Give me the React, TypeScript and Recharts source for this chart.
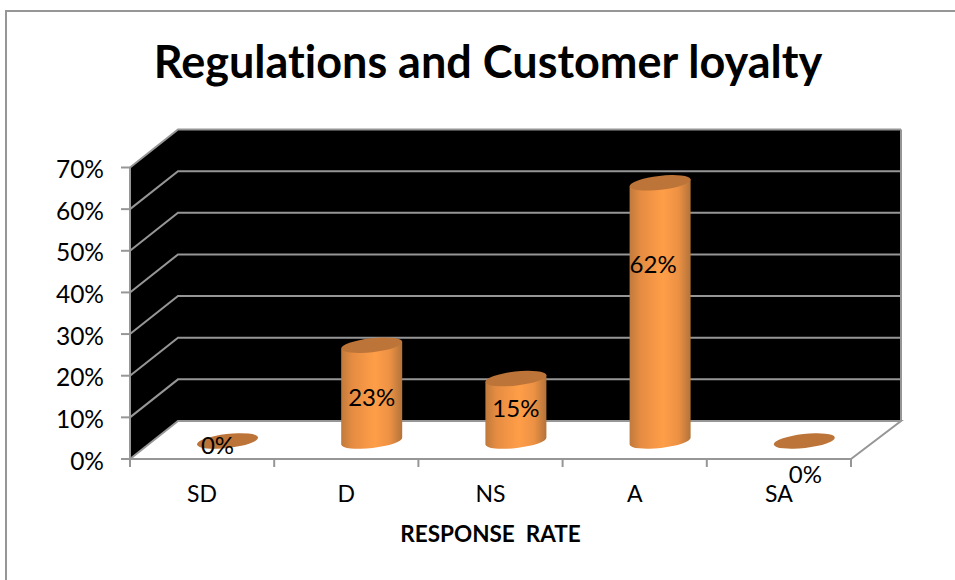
import React from "react";
import { BarChart, Bar, XAxis, YAxis, CartesianGrid, LabelList } from "recharts";

const categories = ["SD", "D", "NS", "A", "SA"];
const responseRate = [0, 23, 15, 62, 0];
const yTicks = [0, 10, 20, 30, 40, 50, 60, 70];

const FONT = "Lato, Carlito, sans-serif";
const W = 955, H = 580;
const LEFT = 130, RIGHT = 104, TOP = 167.5, BOTTOM = 121;
const BAND = (W - LEFT - RIGHT) / categories.length;
const GREY = "#969696";
const DEPTH_L = 48, DEPTH_R = 50, DEPTH_Y = 38;
const BAR_DX = 25, BAR_DY = 18;
// hand-placed data labels of the reference, relative to the top of each cylinder
const labelDx = [-10, 0, 0, -7, 1];
const labelDy = [4, 52, 30, 81.5, 33];

const data = categories.map((name, i) => ({ name, value: responseRate[i] }));

function Wall(props: any) {
  const { x, y, width, height } = props;
  const l = x, r = x + width, t = y, b = y + height;
  return (
    <g>
      <polygon
        points={`${l},${t} ${l + DEPTH_L},${t - DEPTH_Y} ${r + DEPTH_R},${t - DEPTH_Y} ${r + DEPTH_R},${b - DEPTH_Y} ${l + DEPTH_L},${b - DEPTH_Y} ${l},${b}`}
        fill="#000"
      />
      <polygon
        points={`${l},${b} ${l + DEPTH_L},${b - DEPTH_Y} ${r + DEPTH_R},${b - DEPTH_Y} ${r},${b}`}
        fill="#fff"
      />
      <polyline
        points={`${r + DEPTH_R},${t - DEPTH_Y} ${r + DEPTH_R},${b - DEPTH_Y}`}
        fill="none"
        stroke={GREY}
        strokeWidth={2}
      />
    </g>
  );
}

function GridLine(props: any) {
  const { x1, x2, y1, index, x, y, width, height } = props;
  const line = (
    <polyline
      points={`${x1},${y1} ${x1 + DEPTH_L},${y1 - DEPTH_Y} ${x2 + DEPTH_R},${y1 - DEPTH_Y}${y1 >= y + height - 0.5 ? ` ${x2},${y1}` : ""}`}
      fill="none"
      stroke={GREY}
      strokeWidth={2}
    />
  );
  return (
    <g>
      {index === 0 ? <Wall x={x} y={y} width={width} height={height} /> : null}
      {line}
    </g>
  );
}

function Cylinder(props: any) {
  const { x, y, width, height } = props;
  const cx = x + width / 2 + BAR_DX;
  const top = y - BAR_DY;
  const bottom = y + height - BAR_DY;
  const hw = width / 2;
  const tilt = 3.5;
  const rx = Math.hypot(hw, tilt);
  const ry = 7;
  const rot = -6.5;
  const body = `M${cx - hw},${top + tilt} L${cx - hw},${bottom + tilt} A${rx},${ry} ${rot} 0 0 ${cx + hw},${bottom - tilt} L${cx + hw},${top - tilt} Z`;
  const lid = `M${cx - hw},${top + tilt} A${rx},${ry} ${rot} 0 1 ${cx + hw},${top - tilt} A${rx},${ry} ${rot} 0 1 ${cx - hw},${top + tilt} Z`;
  return (
    <g>
      {height > 0 ? <path d={body} fill="url(#cyl)" /> : null}
      <path d={lid} fill="#BC7438" />
    </g>
  );
}

function DataLabel(props: any) {
  const { x, y, width, value, index } = props;
  return (
    <text
      x={x + width / 2 + BAR_DX + labelDx[index]}
      y={y - BAR_DY + labelDy[index]}
      dy="0.36em"
      textAnchor="middle"
      fontFamily={FONT}
      fontSize={24}
      fill="#000"
    >
      {`${value}%`}
    </text>
  );
}

function XTick(props: any) {
  const { x, payload, index } = props;
  const axisY = H - BOTTOM;
  const left = x - BAND / 2;
  return (
    <g>
      <line x1={left} x2={left} y1={axisY} y2={axisY + 8} stroke={GREY} strokeWidth={2} />
      {index === categories.length - 1 ? (
        <line x1={x + BAND / 2} x2={x + BAND / 2} y1={axisY} y2={axisY + 8} stroke={GREY} strokeWidth={2} />
      ) : null}
      <text x={x} y={axisY + 43} textAnchor="middle" fontFamily={FONT} fontSize={23} fill="#000">
        {payload.value}
      </text>
    </g>
  );
}

export default function App() {
  return (
    <div style={{ position: "absolute", left: 0, top: 0, width: W, height: H, background: "#fff" }}>
      <BarChart
        width={W}
        height={H}
        data={data}
        margin={{ left: 0, right: RIGHT, top: TOP, bottom: BOTTOM - 70 }}
        barSize={61}
      >
        <defs>
          <linearGradient id="cyl" x1="0" x2="1" y1="0" y2="0">
            <stop offset="0" stopColor="#C07A3C" />
            <stop offset="0.18" stopColor="#E58C42" />
            <stop offset="0.55" stopColor="#FF9E48" />
            <stop offset="0.8" stopColor="#EC9144" />
            <stop offset="1" stopColor="#B3733A" />
          </linearGradient>
        </defs>
        <line x1={6} y1={580} x2={6} y2={11} stroke={GREY} strokeWidth={2} />
        <line x1={5} y1={11} x2={955} y2={11} stroke={GREY} strokeWidth={2} />
        <text
          x={488}
          y={78}
          textAnchor="middle"
          fontFamily={FONT}
          fontWeight={700}
          fontSize={45}
          fill="#000"
          style={{ fontVariantLigatures: "none" }}
        >
          Regulations and Customer loyalty
        </text>
        <CartesianGrid vertical={false} horizontal={(p: any) => <GridLine key={p.key} {...p} />} />
        <XAxis
          dataKey="name"
          height={70}
          interval={0}
          axisLine={{ stroke: GREY, strokeWidth: 2 }}
          tickLine={false}
          tick={(p: any) => <XTick {...p} />}
          label={{
            value: "RESPONSE\u00A0\u00A0RATE",
            position: "insideBottom",
            offset: -13,
            fontFamily: FONT,
            fontWeight: 700,
            fontSize: 22.5,
            fill: "#000",
          }}
        />
        <YAxis
          width={130}
          domain={[0, 70]}
          ticks={yTicks}
          interval={0}
          tickFormatter={(v: number) => `${v}%`}
          axisLine={{ stroke: GREY, strokeWidth: 2 }}
          tickLine={{ stroke: GREY, strokeWidth: 2 }}
          tickSize={9}
          tickMargin={17}
          tick={{ fontFamily: FONT, fontSize: 24.5, fill: "#000", dy: 2 }}
        />
        <Bar dataKey="value" isAnimationActive={false} shape={(p: any) => <Cylinder {...p} />}>
          <LabelList dataKey="value" content={(p: any) => <DataLabel {...p} />} />
        </Bar>
      </BarChart>
    </div>
  );
}
